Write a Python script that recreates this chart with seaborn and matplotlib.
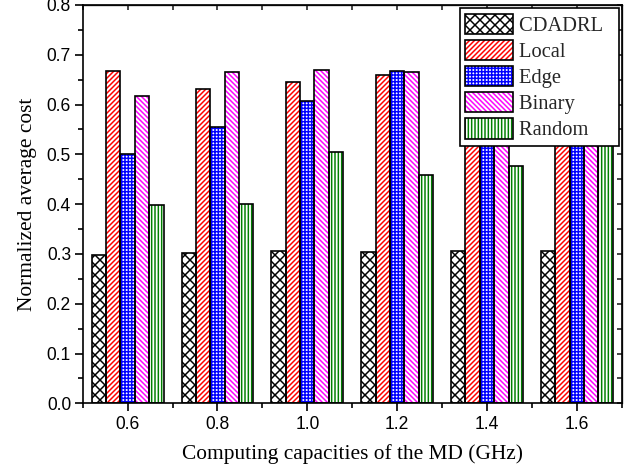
import numpy as np
import pandas as pd
import matplotlib
matplotlib.use("Agg")
import matplotlib.pyplot as plt
import seaborn as sns
from matplotlib.legend_handler import HandlerTuple
from matplotlib.ticker import MultipleLocator

capacities = ["0.6", "0.8", "1.0", "1.2", "1.4", "1.6"]
methods = ["CDADRL", "Local", "Edge", "Binary", "Random"]
cdadrl = [0.298, 0.302, 0.306, 0.304, 0.306, 0.306]
local = [0.667, 0.631, 0.645, 0.659, 0.660, 0.655]
edge = [0.501, 0.554, 0.607, 0.667, 0.667, 0.667]
binary = [0.618, 0.665, 0.670, 0.665, 0.667, 0.667]
random_ = [0.398, 0.400, 0.505, 0.459, 0.477, 0.560]

hatch_colors = ["black", "red", "blue", "magenta", "green"]
hatches = ["xxxx", "////////", "++++++", "\\" * 8, "||||||"]

series = [cdadrl, local, edge, binary, random_]
rows = []
for m, vals in zip(methods, series):
    for c, v in zip(capacities, vals):
        rows.append({"capacity": c, "method": m, "cost": v})
df = pd.DataFrame(rows)

sns.set_style("ticks")
plt.rcParams["hatch.linewidth"] = 0.9

DPI = 120
fig = plt.figure(figsize=(638 / DPI, 471 / DPI), dpi=DPI)
ax = fig.add_axes([0.1296, 0.1437, 0.8449, 0.8457])

# hatched layer
sns.barplot(data=df, x="capacity", y="cost", hue="method", order=capacities,
            hue_order=methods, palette=["white"] * 5, saturation=1,
            width=0.8, linewidth=0, legend=False, errorbar=None, ax=ax)
n_h = len(ax.containers)
for cont, h, col in zip(ax.containers, hatches, hatch_colors):
    for p in cont:
        p.set_hatch(h)
        p.set_edgecolor(col)
        p.set_linewidth(0)

# outline layer
sns.barplot(data=df, x="capacity", y="cost", hue="method", order=capacities,
            hue_order=methods, palette=["black"] * 5, saturation=1, fill=False,
            width=0.8, linewidth=1.0, legend=False, errorbar=None, ax=ax)
outline_conts = ax.containers[n_h:]

ax.set_xlim(-0.5, 5.5)
ax.set_ylim(0, 0.8)
ax.yaxis.set_major_locator(MultipleLocator(0.1))
ax.yaxis.set_minor_locator(MultipleLocator(0.05))
ax.xaxis.set_minor_locator(MultipleLocator(0.5, offset=0.5))
ax.set_yticklabels([f"{v:.1f}" for v in ax.get_yticks()])

tick_font = "Liberation Sans"
serif = "Liberation Serif"
for lab in ax.get_xticklabels() + ax.get_yticklabels():
    lab.set_fontfamily(tick_font)
    lab.set_fontsize(10.5)
    lab.set_color("black")

ax.tick_params(axis="both", which="major", direction="out", length=5, width=1,
               colors="black", top=False, right=False)
ax.tick_params(axis="both", which="minor", direction="out", length=3, width=1,
               colors="black", top=False, right=False)
ax.tick_params(axis="y", which="major", pad=2)
ax.tick_params(axis="x", which="major", pad=2.5)

for s in ax.spines.values():
    s.set_visible(True)
    s.set_linewidth(1.0)
    s.set_color("black")

# inward ticks on top and right
secx = ax.secondary_xaxis("top")
secx.set_xticks(range(len(capacities)))
secx.xaxis.set_minor_locator(MultipleLocator(0.5, offset=0.5))
secx.tick_params(which="both", direction="in", length=3, width=1, labeltop=False)
secy = ax.secondary_yaxis("right")
secy.yaxis.set_major_locator(MultipleLocator(0.1))
secy.yaxis.set_minor_locator(MultipleLocator(0.05))
secy.tick_params(which="both", direction="in", length=3, width=1, labelright=False)

ax.set_xlabel("Computing capacities of the MD (GHz)", fontfamily=serif,
              fontsize=12.8, color="black", labelpad=7)
ax.set_ylabel("Normalized average cost", fontfamily=serif, fontsize=12.8,
              color="black", labelpad=6)

handles = [(hc[0], oc[0]) for hc, oc in zip(ax.containers[:n_h], outline_conts)]
labels = [m + "  " for m in methods]
leg = ax.legend(handles, labels, loc="upper right",
                handler_map={tuple: HandlerTuple(ndivide=1, pad=0)},
                prop={"family": serif, "size": 12.3}, frameon=True, fancybox=False,
                edgecolor="black", framealpha=1, borderpad=0.28, labelspacing=0.2,
                handlelength=2.33, handleheight=1.14, handletextpad=0.3,
                borderaxespad=0.15)
leg.get_frame().set_linewidth(1.0)
leg.set_zorder(10)

fig.savefig("out.png", dpi=DPI)
